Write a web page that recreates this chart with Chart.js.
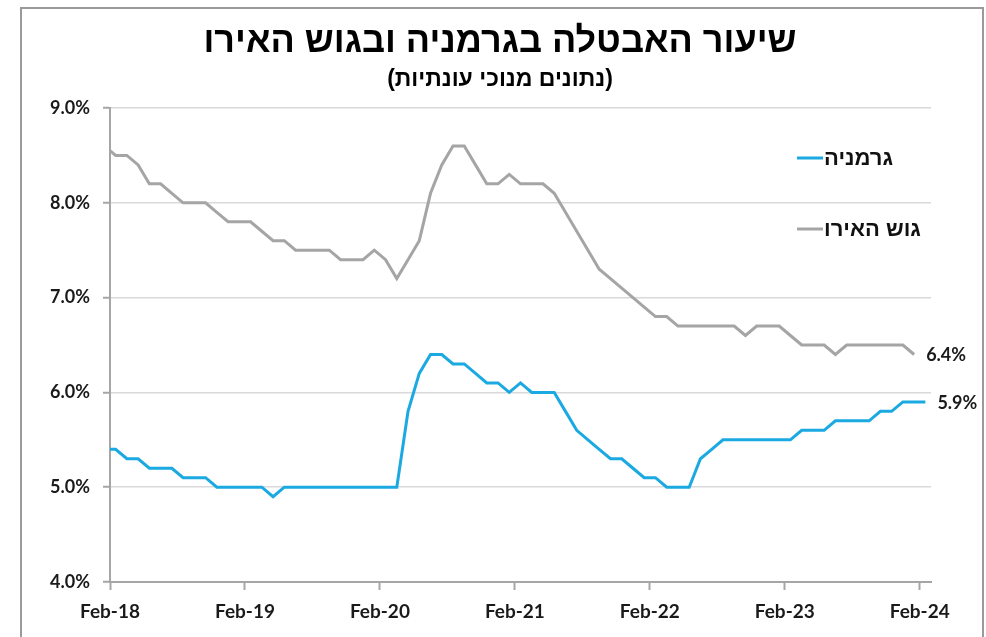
<!DOCTYPE html>
<html>
<head>
<meta charset="utf-8">
<script src="https://cdn.jsdelivr.net/npm/chart.js@4.4.1/dist/chart.umd.min.js"></script>
<style>
  body { margin: 0; background: #fff; }
  #wrap { width: 986px; height: 637px; }
</style>
</head>
<body>
<div id="wrap"><canvas id="unempChart" width="986" height="637"></canvas></div>
<script>
// שיעור האבטלה - נתונים חודשיים, ינואר 2018 עד פברואר 2024
var chartTitle = "שיעור האבטלה בגרמניה ובגוש האירו";
var chartSubtitle = "(נתונים מנוכי עונתיות)";
var seriesNames = ["גרמניה", "גוש האירו"];
var tickLabels = ["Feb-18", "Feb-19", "Feb-20", "Feb-21", "Feb-22", "Feb-23", "Feb-24"];

// גרמניה: Jan-18 .. Feb-24
var germany = [
  5.4, 5.4, 5.3, 5.3, 5.2, 5.2, 5.2, 5.1, 5.1, 5.1, 5.0, 5.0,
  5.0, 5.0, 5.0, 4.9, 5.0, 5.0, 5.0, 5.0, 5.0, 5.0, 5.0, 5.0,
  5.0, 5.0, 5.0, 5.8, 6.2, 6.4, 6.4, 6.3, 6.3, 6.2, 6.1, 6.1,
  6.0, 6.1, 6.0, 6.0, 6.0, 5.8, 5.6, 5.5, 5.4, 5.3, 5.3, 5.2,
  5.1, 5.1, 5.0, 5.0, 5.0, 5.3, 5.4, 5.5, 5.5, 5.5, 5.5, 5.5,
  5.5, 5.5, 5.6, 5.6, 5.6, 5.7, 5.7, 5.7, 5.7, 5.8, 5.8, 5.9,
  5.9, 5.9
];

// גוש האירו: Jan-18 .. Jan-24
var euroArea = [
  8.6, 8.5, 8.5, 8.4, 8.2, 8.2, 8.1, 8.0, 8.0, 8.0, 7.9, 7.8,
  7.8, 7.8, 7.7, 7.6, 7.6, 7.5, 7.5, 7.5, 7.5, 7.4, 7.4, 7.4,
  7.5, 7.4, 7.2, 7.4, 7.6, 8.1, 8.4, 8.6, 8.6, 8.4, 8.2, 8.2,
  8.3, 8.2, 8.2, 8.2, 8.1, 7.9, 7.7, 7.5, 7.3, 7.2, 7.1, 7.0,
  6.9, 6.8, 6.8, 6.7, 6.7, 6.7, 6.7, 6.7, 6.7, 6.6, 6.7, 6.7,
  6.7, 6.6, 6.5, 6.5, 6.5, 6.4, 6.5, 6.5, 6.5, 6.5, 6.5, 6.5,
  6.4
];

var colors = ['#1BA9E1', '#A5A5A5'];

// x = חודשים מ-Feb-18, הנקודה באמצע החודש (Jan-18 = -0.5)
function toPoints(arr) {
  return arr.map(function (v, i) { return { x: i - 0.5, y: v }; });
}

// מסגרת, רקע וכותרת
var framePlugin = {
  id: 'frame',
  beforeDraw: function (chart) {
    var c = chart.ctx;
    c.save();
    c.fillStyle = '#fff';
    c.fillRect(0, 0, chart.width, chart.height);
    c.strokeStyle = '#9A9A9A';
    c.lineWidth = 2;
    c.strokeRect(21, 8, 962, 660);

    c.fillStyle = '#000';
    c.textAlign = 'center';
    c.textBaseline = 'middle';
    c.font = 'bold 36px "Liberation Sans", Arial, sans-serif';
    c.fillText(chartTitle, 500, 42);
    c.font = 'bold 23px "Liberation Sans", Arial, sans-serif';
    c.fillText(chartSubtitle, 500, 80);
    c.restore();
  }
};

// מקרא בתוך אזור הגרף + תוויות ערך אחרון
var labelsPlugin = {
  id: 'labels',
  afterDatasetsDraw: function (chart) {
    var c = chart.ctx;
    var area = chart.chartArea;
    c.save();
    // legend
    c.font = 'bold 22px "Liberation Sans", Arial, sans-serif';
    c.textBaseline = 'middle';
    c.textAlign = 'left';
    chart.data.datasets.forEach(function (ds, k) {
      var y = area.top + 50 + k * 71;
      var x0 = area.right - 134;
      c.strokeStyle = ds.borderColor;
      c.lineWidth = 3;
      c.beginPath();
      c.moveTo(x0, y);
      c.lineTo(x0 + 26, y);
      c.stroke();
      c.fillStyle = '#111';
      c.fillText(ds.label, x0 + 27, y + 1);
    });
    // end labels
    c.font = 'bold 18px Lato, "Open Sans", sans-serif';
    chart.data.datasets.forEach(function (ds, k) {
      var meta = chart.getDatasetMeta(k);
      var last = meta.data[meta.data.length - 1];
      var v = ds.data[ds.data.length - 1].y;
      c.fillStyle = '#1a1a1a';
      c.fillText(v.toFixed(1) + '%', last.x + 12, last.y + 1);
    });
    c.restore();
  }
};

var ctx = document.getElementById('unempChart').getContext('2d');
var unempChart = new Chart(ctx, {
  type: 'line',
  data: {
    datasets: [
      { label: seriesNames[0], data: toPoints(germany), borderColor: colors[0], borderWidth: 3, pointRadius: 0, tension: 0, clip: 0 },
      { label: seriesNames[1], data: toPoints(euroArea), borderColor: colors[1], borderWidth: 3, pointRadius: 0, tension: 0, clip: 0 }
    ]
  },
  options: {
    responsive: false,
    animation: false,
    layout: { padding: { left: 0, right: 55, top: 108, bottom: 0 } },
    plugins: {
      legend: { display: false },
      tooltip: { enabled: false }
    },
    scales: {
      x: {
        type: 'linear',
        min: 0,
        max: 73,
        afterBuildTicks: function (scale) {
          scale.ticks = tickLabels.map(function (t, i) { return { value: i * 12 }; });
        },
        afterFit: function (scale) { scale.height = 55; },
        ticks: {
          maxRotation: 0,
          autoSkip: false,
          padding: 10,
          color: '#1a1a1a',
          font: { family: 'Lato, "Open Sans", sans-serif', size: 19, weight: 'bold' },
          callback: function (v) { return tickLabels[Math.round(v / 12)]; }
        },
        grid: { drawOnChartArea: false, tickLength: 8, tickColor: '#A6A6A6', tickWidth: 2 },
        border: { color: '#A6A6A6', width: 2 }
      },
      y: {
        min: 4,
        max: 9,
        afterFit: function (scale) { scale.width = 110; },
        ticks: {
          stepSize: 1,
          padding: 13,
          color: '#1a1a1a',
          font: { family: 'Lato, "Open Sans", sans-serif', size: 18, weight: 'bold' },
          callback: function (v) { return v.toFixed(1) + '%'; }
        },
        grid: { color: '#D9D9D9', lineWidth: 1.5, tickLength: 7, tickColor: '#A6A6A6', tickWidth: 2 },
        border: { color: '#A6A6A6', width: 2 }
      }
    }
  },
  plugins: [framePlugin, labelsPlugin]
});
</script>
</body>
</html>
